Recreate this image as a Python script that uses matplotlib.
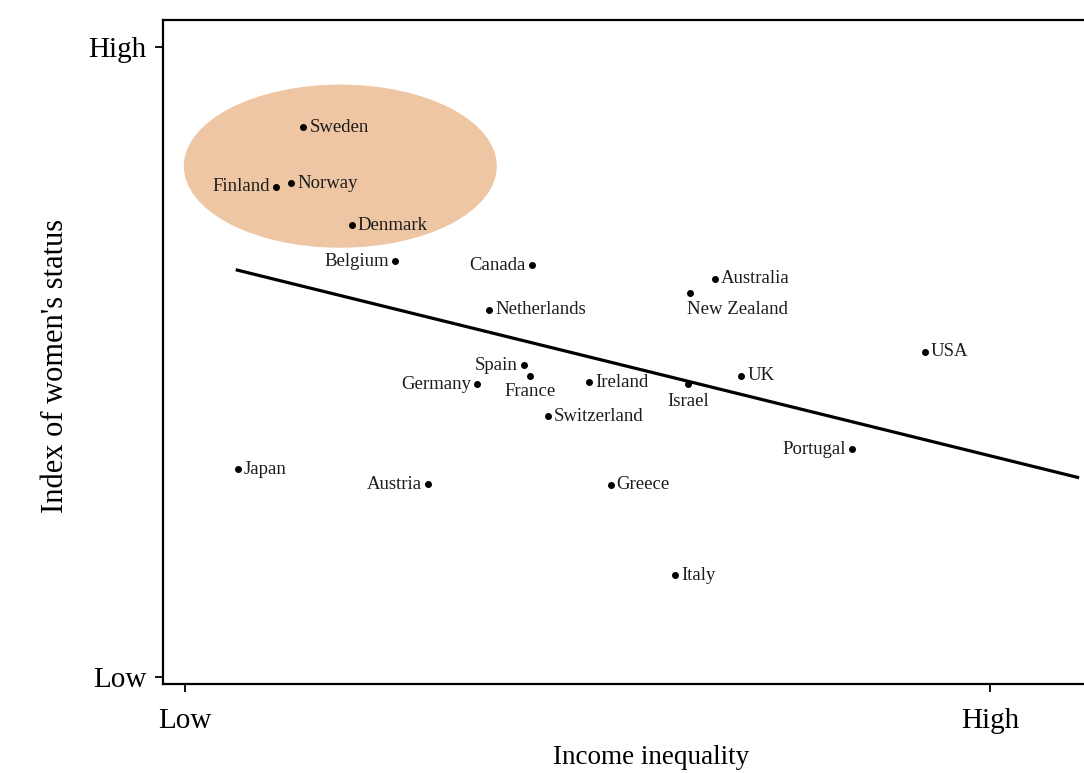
import matplotlib
matplotlib.use("Agg")
import matplotlib.pyplot as plt
from matplotlib.patches import Ellipse

# ---- data (0 = Low, 100 = High on both axes) ----
countries = ["Sweden", "Norway", "Finland", "Denmark", "Belgium", "Canada",
             "Australia", "New Zealand", "Netherlands", "USA", "UK", "Spain",
             "France", "Germany", "Ireland", "Israel", "Switzerland",
             "Portugal", "Japan", "Austria", "Greece", "Italy"]
income_inequality = [14.7, 13.2, 11.3, 20.7, 26.1, 43.1,
                     65.8, 62.7, 37.8, 91.9, 69.1, 42.1,
                     42.9, 36.3, 50.2, 62.5, 45.1,
                     82.9, 6.6, 30.2, 52.9, 60.9]
womens_status = [87.3, 78.4, 77.8, 71.7, 66.0, 65.4,
                 63.2, 60.9, 58.3, 51.6, 47.8, 49.5,
                 47.8, 46.5, 46.8, 46.5, 41.4,
                 36.2, 33.0, 30.6, 30.5, 16.2]
fit_x = [6.5, 110.9]
fit_y = [64.6, 31.7]
x_ticks = [0, 100]
y_ticks = [0, 100]
tick_labels = ["Low", "High"]

# ---- label placement (offset in pixels, alignment) ----
placement = {
    "Finland": (-6, 0, "right"), "Belgium": (-6, 0, "right"),
    "Canada": (-6, 0, "right"), "Spain": (-6, 0, "right"),
    "Germany": (-6, 0, "right"), "Portugal": (-6, 0, "right"),
    "Austria": (-6, 0, "right"),
    "New Zealand": (-3, -16, "left"), "France": (0, -16, "center"),
    "Israel": (0, -17, "center"),
}

SERIF = ["Liberation Serif", "DejaVu Serif"]
plt.rcParams["font.family"] = SERIF

fig = plt.figure(figsize=(10.84, 7.73), dpi=100)
fig.patch.set_facecolor("white")
L, B, T = 163, 684, 20
ax = fig.add_axes([L / 1084, (773 - B) / 773, 1 - L / 1084, (B - T) / 773])
ax.set_xlim(-2.73, 111.7)
ax.set_ylim(-1.1, 104.3)

ax.add_patch(Ellipse((19.3, 81.1), 38.9, 25.9, facecolor="#EFC6A4",
                     edgecolor="none", zorder=1))

ax.plot(fit_x, fit_y, color="black", lw=2.3, zorder=2)
ax.scatter(income_inequality, womens_status, s=16, color="black", zorder=3)

for name, x, y in zip(countries, income_inequality, womens_status):
    dx, dy, ha = placement.get(name, (6, 0, "left"))
    ax.annotate(name, (x, y), xytext=(dx * 0.72, dy * 0.72),
                textcoords="offset points", ha=ha, va="center",
                fontsize=13.5, color="#1c1c1c", zorder=4)

ax.set_xticks(x_ticks)
ax.set_xticklabels(tick_labels, fontsize=21)
ax.set_yticks(y_ticks)
ax.set_yticklabels(tick_labels, fontsize=21)
ax.tick_params(axis="both", direction="out", length=6, width=1.3)
ax.tick_params(axis="x", pad=11)
ax.tick_params(axis="y", pad=6)
ax.set_xlabel("Income inequality", fontsize=19.5, va="center")
ax.xaxis.set_label_coords(0.53, -0.11)
ax.set_ylabel("Index of women's status", fontsize=22, va="center")
ax.yaxis.set_label_coords(-0.117, 0.479)

for side in ["left", "bottom", "top"]:
    ax.spines[side].set_linewidth(1.6)
ax.spines["right"].set_visible(False)

fig.savefig("out.png", dpi=100, facecolor="white")
